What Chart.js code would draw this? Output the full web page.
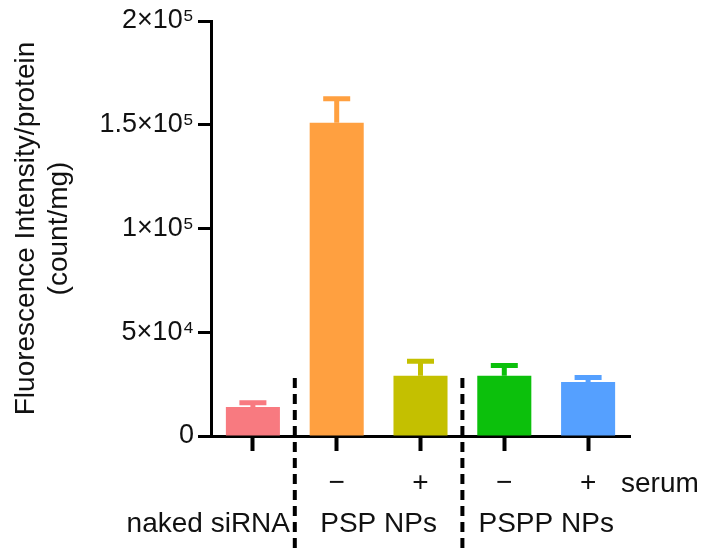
<!DOCTYPE html>
<html>
<head>
<meta charset="utf-8">
<script src="https://cdn.jsdelivr.net/npm/chart.js@4"></script>
<style>
  body { margin: 0; background: #fff; }
</style>
</head>
<body>
<canvas id="chart" width="704" height="552"></canvas>
<script>
// data
const categories = ["naked siRNA", "PSP -", "PSP +", "PSPP -", "PSPP +"];
const serumLabels = ["", "\u2212", "+", "\u2212", "+"];
const means = [14000, 151000, 29000, 29000, 26000];
const errors = [2000, 11500, 7000, 5000, 2200];
const barColors = ["#f87a80", "#ffa040", "#c4c000", "#0cc00c", "#55a0ff"];
const yTicks = [0, 50000, 100000, 150000, 200000];
const yTickLabels = ["0", "5\u00d710\u2074", "1\u00d710\u2075", "1.5\u00d710\u2075", "2\u00d710\u2075"];
const groupLabels = ["naked siRNA", "PSP NPs", "PSPP NPs"];

const FONT = "'Liberation Sans', Arial, sans-serif";

// error bars, dashed separators and the group labels under the axis
const extras = {
  id: "extras",
  afterDatasetsDraw(chart) {
    const ctx = chart.ctx;
    const x = chart.scales.x, y = chart.scales.y;
    ctx.save();
    means.forEach((m, i) => {
      const cx = x.getPixelForValue(i);
      const top = y.getPixelForValue(m);
      const cap = y.getPixelForValue(m + errors[i]);
      ctx.strokeStyle = barColors[i];
      ctx.lineWidth = 5;
      ctx.beginPath();
      ctx.moveTo(cx, top);
      ctx.lineTo(cx, cap);
      ctx.moveTo(cx - 13.5, cap);
      ctx.lineTo(cx + 13.5, cap);
      ctx.stroke();
    });
    ctx.restore();
  },
  afterDraw(chart) {
    const ctx = chart.ctx;
    const x = chart.scales.x;
    ctx.save();
    // dashed separators
    ctx.strokeStyle = "#000";
    ctx.lineWidth = 4;
    ctx.setLineDash([10, 6]);
    [0, 2].forEach((i) => {
      const px = (x.getPixelForValue(i) + x.getPixelForValue(i + 1)) / 2;
      ctx.beginPath();
      ctx.moveTo(px, 378);
      ctx.lineTo(px, 552);
      ctx.stroke();
    });
    ctx.setLineDash([]);
    // text rows
    ctx.fillStyle = "#111";
    ctx.font = "28px " + FONT;
    ctx.textBaseline = "alphabetic";
    ctx.textAlign = "left";
    ctx.fillText("serum", 621, 492);
    ctx.textAlign = "right";
    ctx.fillText(groupLabels[0], 290, 532);
    ctx.textAlign = "center";
    ctx.fillText(groupLabels[1], (x.getPixelForValue(1) + x.getPixelForValue(2)) / 2, 532);
    ctx.fillText(groupLabels[2], (x.getPixelForValue(3) + x.getPixelForValue(4)) / 2, 532);
    ctx.restore();
  }
};

new Chart(document.getElementById("chart"), {
  type: "bar",
  data: {
    labels: categories,
    datasets: [{
      data: means,
      backgroundColor: barColors,
      barPercentage: 0.645,
      categoryPercentage: 1.0
    }]
  },
  options: {
    responsive: false,
    animation: false,
    layout: { padding: { top: 21, right: 74, bottom: 0, left: 0 } },
    plugins: { legend: { display: false }, tooltip: { enabled: false } },
    scales: {
      x: {
        grid: { drawOnChartArea: false, drawTicks: true, tickLength: 15, tickWidth: 4, tickColor: "#000", offset: false },
        border: { color: "#000", width: 3 },
        ticks: {
          color: "#111",
          padding: 15,
          font: { family: FONT, size: 28 },
          maxRotation: 0,
          callback: (v, i) => serumLabels[i]
        },
        afterFit: (s) => { s.height = 116; }
      },
      y: {
        min: 0,
        max: 200000,
        afterBuildTicks: (s) => { s.ticks = yTicks.map((v) => ({ value: v })); },
        grid: { drawOnChartArea: false, drawTicks: true, tickLength: 13, tickWidth: 3, tickColor: "#000" },
        border: { color: "#000", width: 3 },
        ticks: {
          color: "#111",
          padding: 4,
          font: { family: FONT, size: 27 },
          callback: (v) => yTickLabels[yTicks.indexOf(v)]
        },
        title: {
          display: true,
          text: ["Fluorescence Intensity/protein", "(count/mg)"],
          color: "#111",
          font: { family: FONT, size: 28 },
          padding: { top: 9, bottom: 0 }
        },
        afterFit: (s) => { s.width = 211; }
      }
    }
  },
  plugins: [extras]
});
</script>
</body>
</html>
